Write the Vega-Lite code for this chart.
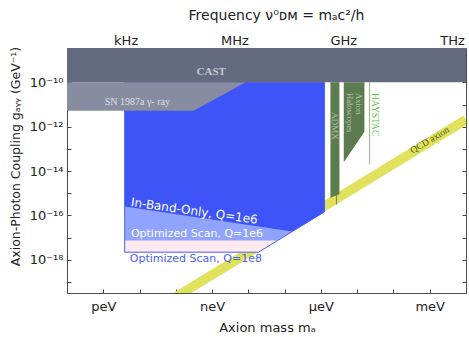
{
  "$schema": "https://vega.github.io/schema/vega-lite/v6.json",
  "width": 399,
  "height": 245,
  "autosize": "none",
  "padding": {"left": 67, "top": 48, "right": 3, "bottom": 44},
  "background": "white",
  "config": {
    "view": {"stroke": "#4d4d4d", "strokeWidth": 1},
    "axis": {
      "grid": false,
      "domain": false,
      "tickColor": "#444444",
      "tickSize": -4,
      "labelFont": "DejaVu Sans",
      "labelFontSize": 13,
      "labelColor": "#222222",
      "labelOverlap": false,
      "labelFlush": false,
      "labelPadding": 5,
      "titleFont": "DejaVu Sans",
      "titleFontSize": 13,
      "titleFontWeight": "normal",
      "titleColor": "#222222"
    }
  },
  "datasets": {
    "qcd": [{"m": 1e-11, "g": 2.09e-21}, {"m": 1e-2, "g": 2.09e-12}],
    "pink": [
      {"m": 3.89e-12, "g": 2.19e-18, "g2": 1e-10},
      {"m": 1.905e-8, "g": 2.19e-18, "g2": 1e-10},
      {"m": 1.25e-6, "g": 1.44e-16, "g2": 1e-10}
    ],
    "lightblue": [
      {"m": 3.89e-12, "g": 7.33e-18, "g2": 1e-10},
      {"m": 6.38e-8, "g": 7.33e-18, "g2": 1e-10},
      {"m": 1.25e-6, "g": 1.44e-16, "g2": 1e-10}
    ],
    "blue": [
      {"m": 3.89e-12, "g": 2.51e-16, "g2": 1e-10},
      {"m": 1.62e-7, "g": 1.86e-17, "g2": 1e-10},
      {"m": 1.25e-6, "g": 1.44e-16, "g2": 1e-10}
    ],
    "admx": [
      {"m": 1.83e-6, "g": 6.3e-16, "g2": 1e-10},
      {"m": 3.24e-6, "g": 8.9e-16, "g2": 1e-10}
    ],
    "admxline": [{"m": 2.68e-6, "g": 3.16e-16, "g2": 8e-16}],
    "halo": [
      {"m": 4.27e-6, "g": 2.5e-14, "g2": 1e-10},
      {"m": 1.585e-5, "g": 5.9e-13, "g2": 1e-10}
    ],
    "haystac": [{"m": 2.19e-5, "g": 2.0e-14, "g2": 1e-10}],
    "sn": [
      {"m": 1e-13, "g": 5.25e-12, "g2": 1e-10},
      {"m": 3.09e-10, "g": 5.25e-12, "g2": 1e-10},
      {"m": 8.5e-9, "g": 1e-10, "g2": 1e-10}
    ],
    "cast": [
      {"m": 1e-13, "g": 1e-10, "g2": 3.55e-9},
      {"m": 1e-2, "g": 1e-10, "g2": 3.55e-9}
    ],
    "labels": [
      {"label": "CAST", "m": 9.5e-10, "g": 2.9e-10},
      {"label": "SN 1987a γ- ray", "m": 8.7e-12, "g": 1.34e-11},
      {"label": "In-Band-Only, Q=1e6", "m": 3.24e-10, "g": 1.58e-16},
      {"label": "Optimized Scan, Q=1e6", "m": 3.83e-10, "g": 1.39e-17},
      {"label": "Optimized Scan, Q=1e8", "m": 3.57e-10, "g": 1.07e-18},
      {"label": "ADMX", "m": 2.51e-6, "g": 1.07e-12},
      {"label": "Axion", "m": 1.09e-5, "g": 3.3e-11},
      {"label": "Haloscopes", "m": 6.53e-6, "g": 3.3e-11},
      {"label": "HAYSTAC", "m": 3.02e-5, "g": 3.3e-11},
      {"label": "QCD axion", "m": 1e-3, "g": 2.5e-13}
    ]
  },
  "encoding": {
    "x": {"field": "m", "type": "quantitative", "scale": {"type": "log", "domain": [1e-13, 1e-2], "nice": false}, "axis": null},
    "y": {"field": "g", "type": "quantitative", "scale": {"type": "log", "domain": [3.16e-20, 3.55e-9], "nice": false}, "axis": null}
  },
  "layer": [
    {
      "data": {"name": "qcd"},
      "mark": {"type": "line", "color": "#e0e15c", "strokeWidth": 9.5, "clip": true, "strokeCap": "butt"},
      "encoding": {
        "x": {"field": "m", "type": "quantitative", "scale": {"type": "log", "domain": [1e-13, 1e-2], "nice": false},
          "axis": {"orient": "bottom", "title": "Axion mass mₐ", "titleX": 200, "titleY": 34, "titleBaseline": "middle", "labelPadding": 11,
            "values": [1e-13, 1e-12, 1e-11, 1e-10, 1e-9, 1e-8, 1e-7, 1e-6, 1e-5, 1e-4, 1e-3, 1e-2],
            "labelExpr": "round(log(datum.value)/LN10) == -12 ? 'peV' : round(log(datum.value)/LN10) == -9 ? 'neV' : round(log(datum.value)/LN10) == -6 ? 'μeV' : round(log(datum.value)/LN10) == -3 ? 'meV' : ''"}},
        "y": {"field": "g", "type": "quantitative", "scale": {"type": "log", "domain": [3.16e-20, 3.55e-9], "nice": false},
          "axis": {"orient": "left", "title": "Axion-Photon Coupling gₐᵧᵧ (GeV⁻¹)", "titleX": -52, "titleY": 108, "titleBaseline": "middle", "titleFontSize": 12.5, "labelPadding": 8,
            "values": [1e-19, 1e-18, 1e-17, 1e-16, 1e-15, 1e-14, 1e-13, 1e-12, 1e-11, 1e-10, 1e-9],
            "labelExpr": "round(log(datum.value)/LN10) == -10 ? '10⁻¹⁰' : round(log(datum.value)/LN10) == -12 ? '10⁻¹²' : round(log(datum.value)/LN10) == -14 ? '10⁻¹⁴' : round(log(datum.value)/LN10) == -16 ? '10⁻¹⁶' : round(log(datum.value)/LN10) == -18 ? '10⁻¹⁸' : ''"}}
      }
    },
    {
      "data": {"name": "pink"},
      "mark": {"type": "area", "color": "#fdeaf0"},
      "encoding": {"y2": {"field": "g2"}}
    },
    {
      "data": {"name": "lightblue"},
      "mark": {"type": "area", "color": "#8fa3ff"},
      "encoding": {"y2": {"field": "g2"}}
    },
    {
      "data": {"name": "blue"},
      "mark": {"type": "area", "color": "#3d55f8"},
      "encoding": {"y2": {"field": "g2"}}
    },
    {
      "data": {"name": "pink"},
      "mark": {"type": "area", "fillOpacity": 0, "fill": "white", "stroke": "#4a5ef5", "strokeWidth": 1},
      "encoding": {"y2": {"field": "g2"}}
    },
    {
      "data": {"name": "admx"},
      "mark": {"type": "area", "color": "#5c7c4f"},
      "encoding": {"y2": {"field": "g2"}}
    },
    {
      "data": {"name": "admxline"},
      "mark": {"type": "rule", "color": "#6d8064", "strokeWidth": 1},
      "encoding": {"y2": {"field": "g2"}}
    },
    {
      "data": {"name": "halo"},
      "mark": {"type": "area", "color": "#5c7c4f"},
      "encoding": {"y2": {"field": "g2"}}
    },
    {
      "data": {"name": "haystac"},
      "mark": {"type": "rule", "color": "#a3bb9f", "strokeWidth": 1.2},
      "encoding": {"y2": {"field": "g2"}}
    },
    {
      "data": {"name": "sn"},
      "mark": {"type": "area", "color": "#878ca0"},
      "encoding": {"y2": {"field": "g2"}}
    },
    {
      "data": {"name": "cast"},
      "mark": {"type": "area", "color": "#646a80"},
      "encoding": {
        "x": {"field": "m", "type": "quantitative", "scale": {"type": "log", "domain": [1e-13, 1e-2], "nice": false},
          "axis": {"orient": "top", "title": "Frequency ν⁰ᴅᴍ = mₐc²/h", "titleX": 209, "titleY": -33, "titleBaseline": "middle", "titleFontSize": 14,
            "values": [4.1357e-13, 4.1357e-12, 4.1357e-11, 4.1357e-10, 4.1357e-9, 4.1357e-8, 4.1357e-7, 4.1357e-6, 4.1357e-5, 4.1357e-4, 4.1357e-3],
            "labelExpr": "round(log(datum.value/4.1357e-15)/LN10) == 3 ? 'kHz' : round(log(datum.value/4.1357e-15)/LN10) == 6 ? 'MHz' : round(log(datum.value/4.1357e-15)/LN10) == 9 ? 'GHz' : round(log(datum.value/4.1357e-15)/LN10) == 12 ? 'THz' : ''"}},
        "y": {"field": "g", "type": "quantitative", "scale": {"type": "log", "domain": [3.16e-20, 3.55e-9], "nice": false},
          "axis": {"orient": "right", "title": null, "labels": false,
            "values": [1e-19, 1e-18, 1e-17, 1e-16, 1e-15, 1e-14, 1e-13, 1e-12, 1e-11, 1e-10, 1e-9]}},
        "y2": {"field": "g2"}
      }
    },
    {
      "data": {"name": "labels"},
      "transform": [{"filter": "datum.label == 'CAST'"}],
      "mark": {"type": "text", "font": "Liberation Serif", "fontWeight": "bold", "fontSize": 11, "color": "#c5c8d2"},
      "encoding": {"text": {"field": "label"}}
    },
    {
      "data": {"name": "labels"},
      "transform": [{"filter": "datum.label == 'SN 1987a γ- ray'"}],
      "mark": {"type": "text", "font": "Liberation Serif", "fontSize": 10, "color": "#dfe1e8"},
      "encoding": {"text": {"field": "label"}}
    },
    {
      "data": {"name": "labels"},
      "transform": [{"filter": "datum.label == 'In-Band-Only, Q=1e6'"}],
      "mark": {"type": "text", "font": "DejaVu Sans", "fontSize": 12, "color": "white", "angle": 8},
      "encoding": {"text": {"field": "label"}}
    },
    {
      "data": {"name": "labels"},
      "transform": [{"filter": "datum.label == 'Optimized Scan, Q=1e6'"}],
      "mark": {"type": "text", "font": "DejaVu Sans", "fontSize": 11, "color": "white"},
      "encoding": {"text": {"field": "label"}}
    },
    {
      "data": {"name": "labels"},
      "transform": [{"filter": "datum.label == 'Optimized Scan, Q=1e8'"}],
      "mark": {"type": "text", "font": "DejaVu Sans", "fontSize": 11, "color": "#4a62f2"},
      "encoding": {"text": {"field": "label"}}
    },
    {
      "data": {"name": "labels"},
      "transform": [{"filter": "datum.label == 'ADMX'"}],
      "mark": {"type": "text", "font": "Liberation Serif", "fontSize": 9, "color": "#b0bfa8", "angle": 90},
      "encoding": {"text": {"field": "label"}}
    },
    {
      "data": {"name": "labels"},
      "transform": [{"filter": "datum.label == 'Axion' || datum.label == 'Haloscopes'"}],
      "mark": {"type": "text", "font": "Liberation Serif", "fontSize": 8.5, "color": "#b7c4b0", "angle": 90, "align": "left", "baseline": "middle"},
      "encoding": {"text": {"field": "label"}}
    },
    {
      "data": {"name": "labels"},
      "transform": [{"filter": "datum.label == 'HAYSTAC'"}],
      "mark": {"type": "text", "font": "Liberation Serif", "fontSize": 9.5, "color": "#5ec43c", "angle": 90, "align": "left", "baseline": "middle"},
      "encoding": {"text": {"field": "label"}}
    },
    {
      "data": {"name": "labels"},
      "transform": [{"filter": "datum.label == 'QCD axion'"}],
      "mark": {"type": "text", "font": "Liberation Serif", "fontSize": 9.5, "color": "#5a5a22", "angle": -31},
      "encoding": {"text": {"field": "label"}}
    }
  ],
  "resolve": {"axis": {"x": "independent", "y": "independent"}}
}
